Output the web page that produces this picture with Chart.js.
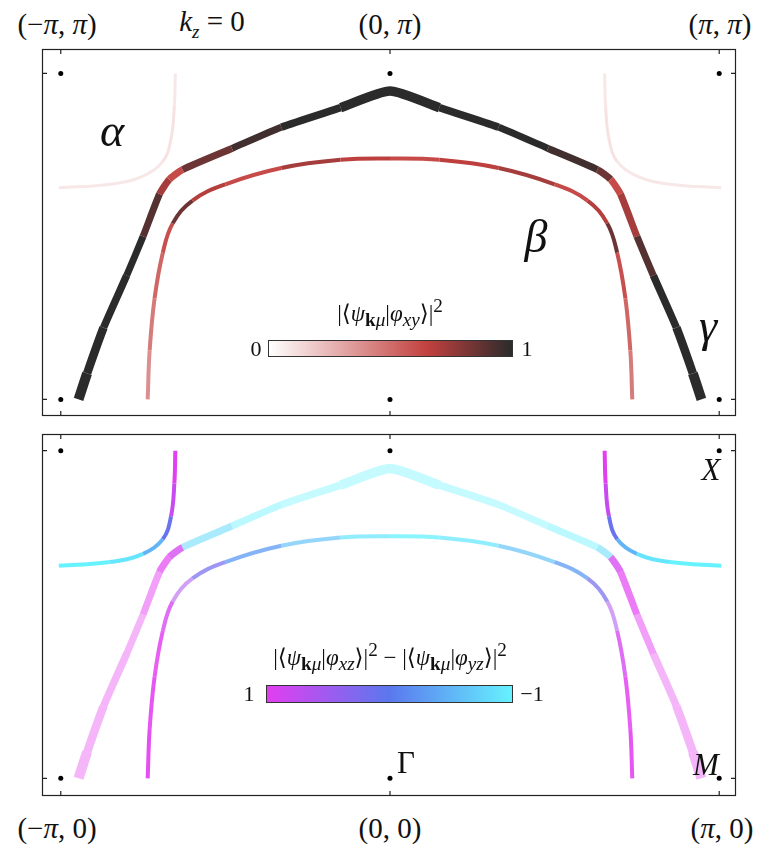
<!DOCTYPE html>
<html><head><meta charset="utf-8">
<script src="https://cdn.jsdelivr.net/npm/chart.js@4/dist/chart.umd.min.js"></script>
<style>
body{margin:0;background:#fff;width:768px;height:854px;position:relative;overflow:hidden;font-family:"Liberation Serif","DejaVu Serif",serif}
.box{position:absolute;left:38px;width:702px}
.t{position:absolute;transform:translate(-50%,-50%);white-space:nowrap;color:#111}
.cb{position:absolute;border:1px solid #333;box-sizing:border-box}
i{font-style:italic}
</style></head><body>
<div class="box" style="top:45px;height:375px"><canvas id="top"></canvas></div>
<div class="box" style="top:430px;height:370px"><canvas id="bot"></canvas></div>

<div class="t" style="left:57px;top:24px;font-size:29px">(−<i>π</i>, <i>π</i>)</div>
<div class="t" style="left:212px;top:24px;font-size:29px"><i>k<sub style="font-size:19px">z</sub></i> = 0</div>
<div class="t" style="left:390px;top:24px;font-size:29px">(0, <i>π</i>)</div>
<div class="t" style="left:720px;top:24px;font-size:29px">(<i>π</i>, <i>π</i>)</div>
<div class="t" style="left:57px;top:828px;font-size:29px">(−<i>π</i>, 0)</div>
<div class="t" style="left:390px;top:828px;font-size:29px">(0, 0)</div>
<div class="t" style="left:722px;top:828px;font-size:29px">(<i>π</i>, 0)</div>

<div class="t" style="left:112px;top:130px;font-size:46px"><i>α</i></div>
<div class="t" style="left:536px;top:236px;font-size:46px"><i>β</i></div>
<div class="t" style="left:708px;top:325px;font-size:46px"><i>γ</i></div>
<div class="t" style="left:711px;top:470px;font-size:31px"><i>X</i></div>
<div class="t" style="left:406px;top:763px;font-size:31px">Γ</div>
<div class="t" style="left:706px;top:765px;font-size:31px"><i>M</i></div>

<div class="t" style="left:390px;top:313px;font-size:23px">|⟨<i>ψ</i><sub><b>k</b><i>μ</i></sub>|<i>φ</i><sub><i>xy</i></sub>⟩|<sup>2</sup></div>
<div class="cb" style="left:268px;top:340px;width:245px;height:17px;background:linear-gradient(90deg,#fff,#c2413f 65%,#2b2b2b)"></div>
<div class="t" style="left:256px;top:349px;font-size:22px">0</div>
<div class="t" style="left:527px;top:349px;font-size:22px">1</div>

<div class="t" style="left:390px;top:657px;font-size:23px">|⟨<i>ψ</i><sub><b>k</b><i>μ</i></sub>|<i>φ</i><sub><i>xz</i></sub>⟩|<sup>2</sup> − |⟨<i>ψ</i><sub><b>k</b><i>μ</i></sub>|<i>φ</i><sub><i>yz</i></sub>⟩|<sup>2</sup></div>
<div class="cb" style="left:266px;top:685px;width:247px;height:18px;background:linear-gradient(90deg,#e23ef0,#5a78ee 50%,#66f2ff)"></div>
<div class="t" style="left:249px;top:694px;font-size:22px">1</div>
<div class="t" style="left:532px;top:694px;font-size:22px">−1</div>

<script>
// Fermi surface points in units of pi (kx, ky), left to right
const gammaX = [-0.946,-0.92,-0.87,-0.80,-0.75,-0.70,-0.67,-0.63,-0.48,-0.33,-0.15,0,0.15,0.33,0.48,0.63,0.67,0.70,0.75,0.80,0.87,0.92,0.946];
const gammaY = [0,0.08,0.22,0.38,0.50,0.63,0.675,0.705,0.77,0.835,0.895,0.946,0.895,0.835,0.77,0.705,0.675,0.63,0.50,0.38,0.22,0.08,0];
const gammaXY = [1,1,1,1,0.9,0.72,0.62,0.85,0.95,1,1,1,1,1,0.95,0.85,0.62,0.72,0.9,1,1,1,1];
const gammaD = [1,1,1,1,1,1,0.9,-0.8,-1,-1,-1,-1,-1,-1,-1,-0.8,0.9,1,1,1,1,1,1];
const gammaW = [11,9,8,7,7,7,7,7,7,7,8,11,8,7,7,7,7,7,7,7,8,9,11];

const betaX = [-0.736,-0.73,-0.715,-0.69,-0.66,-0.60,-0.50,-0.33,-0.15,0,0.15,0.33,0.50,0.60,0.66,0.69,0.715,0.73,0.736];
const betaY = [0,0.15,0.31,0.45,0.54,0.61,0.66,0.71,0.735,0.739,0.735,0.71,0.66,0.61,0.54,0.45,0.31,0.15,0];
const betaXY = [0.38,0.45,0.52,0.6,0.85,0.68,0.62,0.72,0.66,0.62,0.66,0.72,0.62,0.68,0.85,0.6,0.52,0.45,0.38];
const betaD = [1,1,1,0.9,0.6,0.2,-0.3,-0.6,-0.9,-1,-0.9,-0.6,-0.3,0.2,0.6,0.9,1,1,1];

const alphaLX = [-1.006,-0.85,-0.75,-0.69,-0.665,-0.655,-0.652];
const alphaRX = [1.006,0.85,0.75,0.69,0.665,0.655,0.652];
const alphaY = [0.649,0.66,0.685,0.73,0.8,0.9,1.0];
const alphaXY = [0.08,0.08,0.08,0.1,0.1,0.08,0.08];
const alphaD = [-1,-0.9,-0.5,0.1,0.8,1,1];

const dotX = [-1,0,1,-1,0,1];
const dotY = [0,0,0,1,1,1];

function mix(a,b,t){return a.map((v,i)=>Math.round(v+(b[i]-v)*t));}
function xyColor(w){
  const c = w<0.65 ? mix([255,255,255],[194,65,63],w/0.65) : mix([194,65,63],[43,43,43],(w-0.65)/0.35);
  return `rgb(${c})`;
}
function dColor(d,xy){
  const t=(1-d)/2;
  const c = t<0.5 ? mix([226,62,240],[90,120,238],t*2) : mix([90,120,238],[102,242,255],(t-0.5)*2);
  const a = 1-0.62*xy*xy;
  return `rgba(${c},${a})`;
}
function pts(xs,ys){return xs.map((x,i)=>({x,y:ys[i]}));}
function curve(xs,ys,cols,widths,ten){
  return {data:pts(xs,ys),showLine:true,pointRadius:0,tension:ten||0.4,fill:false,
    borderColor:cols[0],borderWidth:widths[0],borderCapStyle:'butt',
    segment:{borderColor:c=>cols[c.p0DataIndex],borderWidth:c=>(widths[c.p0DataIndex]+widths[c.p1DataIndex])/2}};
}
const dots={data:pts(dotX,dotY),pointRadius:2.5,pointBackgroundColor:'#000',pointBorderWidth:0,showLine:false};
const frame={id:'frame',afterDraw(ch){
  const {ctx,chartArea:a,scales:{x,y}}=ch;
  ctx.save();ctx.strokeStyle='#222';ctx.lineWidth=1.2;
  ctx.strokeRect(a.left+0.5,a.top+0.5,a.width-1,a.height-1);
  ctx.beginPath();
  dotX.slice(0,3).forEach(v=>{const px=x.getPixelForValue(v);ctx.moveTo(px,a.top);ctx.lineTo(px,a.top+5);ctx.moveTo(px,a.bottom);ctx.lineTo(px,a.bottom-5);});
  [0,1].forEach(v=>{const py=y.getPixelForValue(v);ctx.moveTo(a.left,py);ctx.lineTo(a.left+5,py);ctx.moveTo(a.right,py);ctx.lineTo(a.right-5,py);});
  ctx.stroke();ctx.restore();}};
function make(id,ymin,ymax,sets){
  new Chart(document.getElementById(id),{type:'scatter',data:{datasets:sets.concat([dots])},
    options:{responsive:true,maintainAspectRatio:false,animation:false,layout:{padding:0},
      plugins:{legend:{display:false},tooltip:{enabled:false}},
      scales:{x:{display:false,min:-1.057,max:1.051},y:{display:false,min:ymin,max:ymax}}},
    plugins:[frame]});
}
const aw=alphaY.map(()=>3);
make('top',-0.051,1.075,[
  curve(alphaLX,alphaY,alphaXY.map(xyColor),aw),
  curve(alphaRX,alphaY,alphaXY.map(xyColor),aw),
  curve(betaX,betaY,betaXY.map(xyColor),betaY.map(()=>4)),
  curve(gammaX,gammaY,gammaXY.map(xyColor),gammaW,0.2)
]);
make('bot',-0.054,1.051,[
  curve(alphaLX,alphaY,alphaD.map((d,i)=>dColor(d,alphaXY[i])),aw.map(()=>4)),
  curve(alphaRX,alphaY,alphaD.map((d,i)=>dColor(d,alphaXY[i])),aw.map(()=>4)),
  curve(betaX,betaY,betaD.map((d,i)=>dColor(d,betaXY[i])),betaY.map(()=>4)),
  curve(gammaX,gammaY,gammaD.map((d,i)=>dColor(d,gammaXY[i])),gammaW,0.2)
]);
</script></body></html>
